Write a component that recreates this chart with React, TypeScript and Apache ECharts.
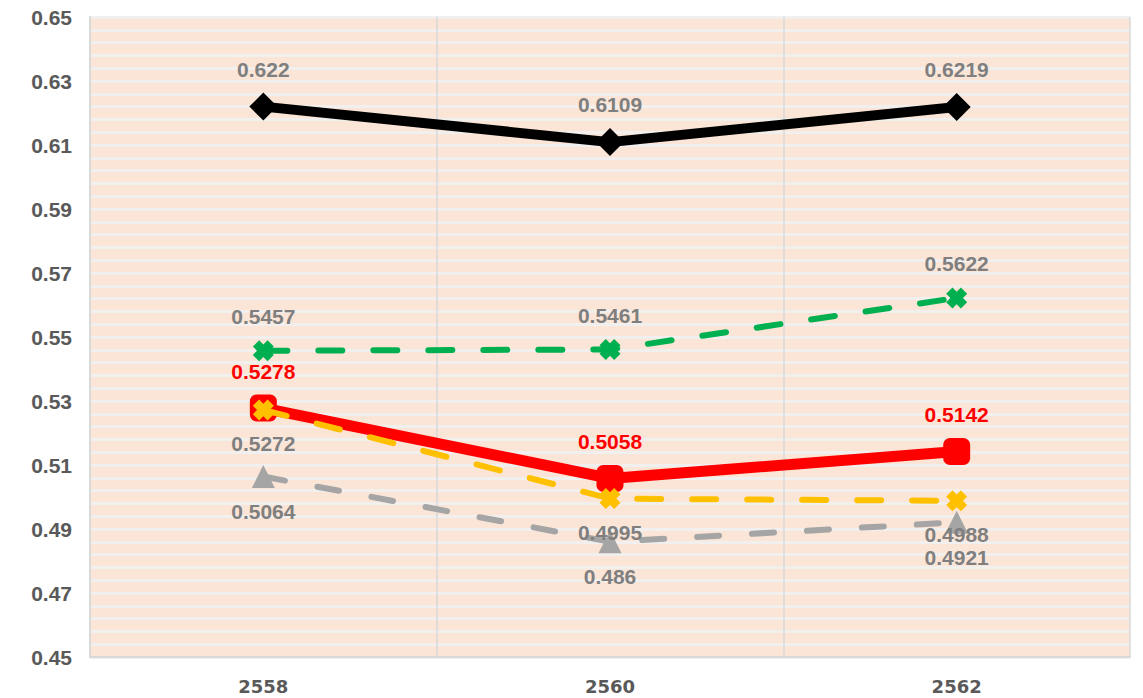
import React, { useEffect, useRef } from "react";
import * as echarts from "echarts";

const categories = ["2558", "2560", "2562"];
const blackValues = [0.622, 0.6109, 0.6219];
const greenValues = [0.5457, 0.5461, 0.5622];
const redValues = [0.5278, 0.5058, 0.5142];
const yellowValues = [0.5272, 0.4995, 0.4988];
const grayValues = [0.5064, 0.486, 0.4921];

const X_MARK = "path://M3,0 L5,2 L7,0 L10,3 L8,5 L10,7 L7,10 L5,8 L3,10 L0,7 L2,5 L0,3 Z";
const FONT = "'Liberation Sans', Arial, sans-serif";

export default function App() {
  const ref = useRef<HTMLDivElement>(null);
  useEffect(() => {
    if (!ref.current) return;
    const chart = echarts.init(ref.current, undefined, { renderer: "svg" });
    const labelStyle = (color: string, position: string) => ({
      show: true,
      position,
      distance: 13,
      color,
      fontFamily: FONT,
      fontWeight: "bold",
      fontSize: 21,
      formatter: (p: any) => String(p.value),
    });
    chart.setOption({
      animation: false,
      grid: {
        left: 90,
        right: 13,
        top: 17,
        bottom: 41,
        show: true,
        backgroundColor: "#fbe5d6",
        borderWidth: 0,
      },
      xAxis: {
        type: "category",
        data: categories,
        boundaryGap: true,
        axisLine: { show: true, lineStyle: { color: "#d9d9d9", width: 2 } },
        axisTick: { show: false },
        axisLabel: {
          color: "#595959",
          fontFamily: "'DejaVu Sans', sans-serif",
          fontWeight: "bold",
          fontSize: 18,
          margin: 20,
        },
        splitLine: { show: true, lineStyle: { color: "#d9d9d9", width: 1.5 } },
      },
      yAxis: {
        type: "value",
        min: 0.45,
        max: 0.65,
        interval: 0.02,
        axisLine: { show: true, lineStyle: { color: "#d9d9d9", width: 2 } },
        axisTick: { show: false },
        axisLabel: {
          color: "#595959",
          fontFamily: FONT,
          fontWeight: "bold",
          fontSize: 21,
          margin: 18,
          formatter: (v: number) => v.toFixed(2),
        },
        splitLine: { show: true, lineStyle: { color: "#f2f0ef", width: 3 } },
        minorTick: { show: false, splitNumber: 5 },
        minorSplitLine: { show: true, lineStyle: { color: "#f2f0ef", width: 3 } },
      },
      series: [
        {
          name: "black",
          type: "line",
          data: blackValues,
          symbol: "diamond",
          symbolSize: [28, 28],
          lineStyle: { color: "#000000", width: 10 },
          itemStyle: { color: "#000000" },
          label: labelStyle("#7f7f7f", "top"),
          z: 5,
        },
        {
          name: "green",
          type: "line",
          data: greenValues,
          symbol: X_MARK,
          symbolSize: 21,
          lineStyle: { color: "#00b050", width: 6, type: [24, 31], cap: "round" },
          itemStyle: { color: "#00b050" },
          label: labelStyle("#7f7f7f", "top"),
          z: 3,
        },
        {
          name: "red",
          type: "line",
          data: redValues,
          symbol: "roundRect",
          symbolSize: 27,
          lineStyle: { color: "#ff0000", width: 11 },
          itemStyle: { color: "#ff0000" },
          label: labelStyle("#ff0000", "top"),
          z: 2,
        },
        {
          name: "yellow",
          type: "line",
          data: yellowValues,
          symbol: X_MARK,
          symbolSize: 21,
          lineStyle: { color: "#ffc000", width: 6, type: [24, 31], cap: "round" },
          itemStyle: { color: "#ffc000" },
          label: labelStyle("#7f7f7f", "bottom"),
          z: 3,
        },
        {
          name: "gray",
          type: "line",
          data: grayValues,
          symbol: "triangle",
          symbolSize: 23,
          lineStyle: { color: "#a5a5a5", width: 6, type: [22, 33], cap: "round" },
          itemStyle: { color: "#a5a5a5" },
          label: labelStyle("#7f7f7f", "bottom"),
          z: 2,
        },
      ],
    });
    return () => chart.dispose();
  }, []);
  return (
    <div
      ref={ref}
      style={{ position: "fixed", left: 0, top: 0, width: 1143, height: 698, background: "#ffffff" }}
    />
  );
}
